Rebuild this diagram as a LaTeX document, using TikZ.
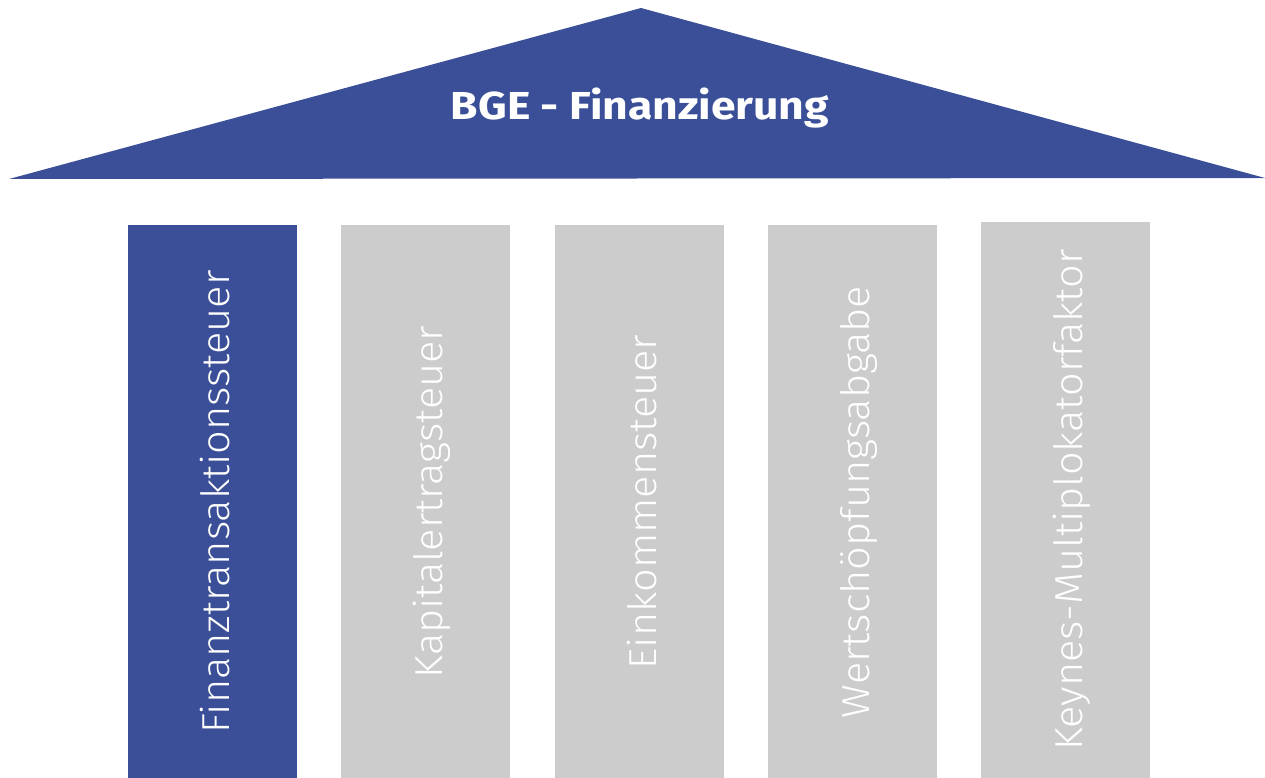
\documentclass[tikz,border=0pt]{standalone}
\usepackage{fontspec}
\setmainfont{Fira Sans}
\newfontfamily\titlefont[FakeStretch=1.14]{Fira Sans}
\newfontfamily\pillarfont[FakeStretch=1.065, UprightFont=* Light]{Fira Sans}
\definecolor{bgeblue}{RGB}{58,79,152}
\definecolor{pillargrey}{RGB}{204,204,204}
\tikzset{
  pillar/.style={fill=pillargrey, inner sep=0pt, minimum width=169pt},
  pillartext/.style={rotate=90, anchor=base, text=white, inner sep=0pt, font=\pillarfont\fontsize{39}{39}\selectfont},
}
\begin{document}
\begin{tikzpicture}[x=1pt, y=-1pt]
                \useasboundingbox (0,0) rectangle (1265,778);
                % roof
                \fill[bgeblue] (9,179) -- (641,8) -- (1265,178) -- cycle;
                \node[anchor=base, text=white, font=\titlefont\fontsize{39}{39}\selectfont\bfseries] (title) at (640,120) {BGE - Finanzierung};
                % pillars
                \node[pillar, fill=bgeblue, minimum height=553pt, anchor=north west] (p1) at (128,225) {};
                \node[pillar, minimum height=553pt, anchor=north west] (p2) at (341,225) {};
                \node[pillar, minimum height=553pt, anchor=north west] (p3) at (555,225) {};
                \node[pillar, minimum height=553pt, anchor=north west] (p4) at (768,225) {};
                \node[pillar, minimum height=556pt, anchor=north west] (p5) at (981,222) {};
                \node[pillartext] (t1) at (229,502) {Finanztransaktionssteuer};
                \node[pillartext] (t2) at (442,502) {Kapitalertragsteuer};
                \node[pillartext] (t3) at (656,502) {Einkommensteuer};
                \node[pillartext] (t4) at (869,502) {Wertschöpfungsabgabe};
                \node[pillartext] (t5) at (1082,500) {Keynes-Multiplokatorfaktor};
\end{tikzpicture}
\end{document}
